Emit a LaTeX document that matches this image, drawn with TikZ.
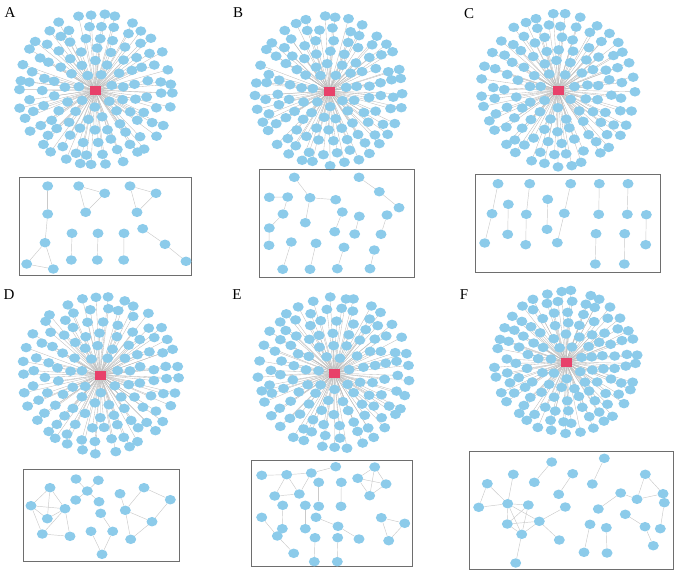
\documentclass[tikz,border=0pt]{standalone}
\usepackage{fontspec}
\setmainfont{Liberation Serif}
\usetikzlibrary{shapes.geometric,backgrounds,calc}
\definecolor{genex}{HTML}{8CCBEA}
\definecolor{hubx}{HTML}{E8416A}
\definecolor{linkx}{HTML}{BDBDBD}
\definecolor{framex}{HTML}{6E6E6E}

% star network: name, x, y, radius scale, seed
\newcommand{\hubnet}[5]{%
  \pgfmathsetseed{#5}%
  \node[hub] (#1h) at (#2,#3) {};
  \foreach \rr/\cnt [count=\k] in {17/7,29/13,41/18,53/23,65/28,76/33}{
    \foreach \i in {1,...,\cnt}{
      \pgfmathsetmacro\ang{360*\i/\cnt+37*\k+3*rand}
      \pgfmathsetmacro\rad{#4*(\rr+1.5*rand)}
      \node[gn] (#1g\k-\i) at ($(#1h)+(\ang:\rad)$) {};
    }
  }
  \begin{scope}[on background layer]
  \foreach \rr/\cnt [count=\k] in {17/7,29/13,41/18,53/23,65/28,76/33}{
    \foreach \i in {1,...,\cnt}
      \draw[lk] (#1h.center) -- (#1g\k-\i.center);
  }
  \end{scope}
}

\begin{document}
\begin{tikzpicture}[x=1pt, y=-1pt,
  gn/.style={ellipse, fill=genex, minimum width=11pt, minimum height=9.5pt, inner sep=0pt},
  hub/.style={rectangle, fill=hubx, minimum width=11pt, minimum height=9pt, inner sep=0pt},
  lk/.style={draw=linkx, line width=0.35pt},
  sub/.style={draw=linkx!80, line width=0.45pt},
  frame/.style={draw=framex, line width=0.9pt},
  lbl/.style={font=\fontsize{15}{15}\selectfont, inner sep=0pt}]
\useasboundingbox (0,0) rectangle (677,574);
% panel letters
\node[lbl] (la) at (10,13) {A};
\node[lbl] (lb) at (238,13) {B};
\node[lbl] (lc) at (469,14) {C};
\node[lbl] (ld) at (9,295) {D};
\node[lbl] (le) at (237,295) {E};
\node[lbl] (lf) at (464,295) {F};
% star networks
\hubnet{A}{95}{90}{1.0}{11}
\hubnet{B}{329}{91}{0.97}{23}
\hubnet{C}{558}{90}{1.0}{37}
\hubnet{D}{100}{375}{1.02}{41}
\hubnet{E}{334}{373}{0.99}{53}
\hubnet{F}{566}{362}{0.93}{67}
% frames
\draw[frame] (19.3,177.3) rectangle (191.7,275);
\draw[frame] (259.3,169.3) rectangle (414,277.7);
\draw[frame] (475.3,174.7) rectangle (660,272.7);
\draw[frame] (23.3,469) rectangle (179,561.7);
\draw[frame] (251.7,460.7) rectangle (412.3,566);
\draw[frame] (469.7,451) rectangle (673,569);
% sub-networks A
\foreach \n/\x/\y in {1/47.7/186,2/47.7/214,3/45/242.7,4/26.7/264,5/53.3/269,
  6/78.7/186,7/104.7/193.3,8/85.7/212.3,9/130/186,10/156/193.3,11/137/212.3,
  12/72/233.3,13/71.3/260,14/98/233.3,15/97.3/260,16/124/233.3,17/123.7/260,
  18/142.7/228.7,19/165/244.3,20/186/261.3}
  \node[gn] (a\n) at (\x,\y) {};
\begin{scope}[on background layer]
\foreach \u/\v in {1/2,2/3,3/4,3/5,4/5,6/7,7/8,6/8,9/10,10/11,9/11,12/13,14/15,16/17,18/19,19/20}
  \draw[sub] (a\u) -- (a\v);
\end{scope}
% sub-networks B
\foreach \n/\x/\y in {1/294.3/177.3,2/310/197.7,3/335.7/199.7,4/305.3/222.7,5/269.3/197.3,
  6/287.7/197,7/283/214,8/269.3/228,9/269/245.3,10/359/177.3,11/379.3/191.7,12/399/207.7,
  13/342.3/212,14/334.7/231.7,15/359.3/216.3,16/354.7/234,17/387/215,18/381/234.3,
  19/291.3/242,20/282.7/269.3,21/316/243.3,22/310/269.3,23/344/247.3,24/337.3/268.7,
  25/374.3/250,26/370/268.7}
  \node[gn] (b\n) at (\x,\y) {};
\begin{scope}[on background layer]
\foreach \u/\v in {1/2,2/3,2/4,5/6,6/7,7/8,8/9,10/11,11/12,13/14,15/16,17/18,19/20,21/22,23/24,25/26}
  \draw[sub] (b\u) -- (b\v);
\end{scope}
% sub-networks C
\foreach \n/\x/\y in {1/498/183.7,2/492/213.7,3/484.7/243,4/508.3/204.3,5/507.7/234.3,
  6/529.7/183.7,7/526.3/214.3,8/525.7/244.7,9/547.7/199.3,10/547/229.3,11/570.7/183.7,
  12/564.3/213.3,13/557.3/242.7,14/599.3/183.7,15/598.7/214.3,16/596/233.7,17/595.3/264,
  18/628/183.7,19/627.3/214.3,20/624.7/233.7,21/624.3/264,22/646.3/214.7,23/645.7/244.7}
  \node[gn] (c\n) at (\x,\y) {};
\begin{scope}[on background layer]
\foreach \u/\v in {1/2,2/3,4/5,6/7,7/8,9/10,11/12,12/13,14/15,16/17,18/19,20/21,22/23}
  \draw[sub] (c\u) -- (c\v);
\end{scope}
% sub-networks D
\foreach \n/\x/\y in {1/50/487.7,2/31/505.7,3/65/508.7,4/47.3/518.7,5/42.3/534,6/70/536.3,
  7/76/479,8/98.3/480.3,9/87.3/491,10/75.7/500,11/99/501.7,
  12/100.7/513.3,13/112.7/531.3,14/91/531.3,15/102/554.3,
  16/120/493.7,17/144/487.7,18/170.3/499.7,19/125.3/510.3,20/152/521.7,21/130.7/539.3}
  \node[gn] (d\n) at (\x,\y) {};
\begin{scope}[on background layer]
\foreach \u/\v in {1/2,1/3,1/4,2/3,2/4,2/5,3/4,3/5,3/6,5/6,7/9,8/9,9/10,9/11,
  12/13,13/15,14/15,16/19,17/19,17/18,18/20,19/20,19/21,20/21}
  \draw[sub] (d\u) -- (d\v);
\end{scope}
% sub-networks E
\foreach \n/\x/\y in {1/261.7/475.3,2/286.7/474.7,3/311.3/473,4/335.7/466.7,5/274.7/496,6/299.3/494,
  7/318.7/482.3,8/318.7/506.3,9/341.3/482.3,10/341/506.3,
  11/357.7/478.3,12/374.7/467,13/386/484,14/369.7/495.7,
  15/282.7/505.3,16/282.3/528.7,17/261.7/517.3,18/277.3/536,19/293.7/553.3,
  20/305.3/505.3,21/305.3/528.7,22/316/517.3,23/338/526.3,24/359/539,
  25/315/537.7,26/314.3/561.7,27/337.7/537.7,28/337.3/561.7,
  29/381.3/517.7,30/404.7/523.3,31/388.7/540.7}
  \node[gn] (e\n) at (\x,\y) {};
\begin{scope}[on background layer]
\foreach \u/\v in {1/2,2/5,2/6,5/6,2/3,3/6,3/4,7/8,9/10,11/12,11/13,11/14,12/13,12/14,13/14,
  15/16,17/18,16/18,18/19,20/21,22/23,23/24,25/26,27/28,29/30,29/31,30/31}
  \draw[sub] (e\u) -- (e\v);
\end{scope}
% sub-networks F
\foreach \n/\x/\y in {1/487.3/483.7,2/478.7/507.3,3/507.7/503.7,4/513.3/474.3,5/528.3/505,
  6/507.3/524,7/521.7/534.3,8/539.3/521.3,9/565.3/507,10/559.3/540,11/515.7/563,
  12/551.7/462,13/534.3/482.3,14/572.7/473.7,15/558.7/494.3,16/604.3/458.3,17/592.3/484,
  18/620.7/493,19/598.3/509,20/590/524.3,21/584/552.3,22/606.3/527.7,23/607/553,
  24/637/499.3,25/645.3/474.3,26/663/493.7,27/664.3/502.7,28/660.3/528.7,
  29/625.3/514.3,30/645/526.7,31/653.3/545.7}
  \node[gn] (f\n) at (\x,\y) {};
\begin{scope}[on background layer]
\foreach \u/\v in {1/2,1/3,2/3,3/4,3/5,3/6,3/7,3/8,5/6,5/7,6/7,6/8,7/8,8/9,8/10,7/11,
  12/13,14/15,16/17,18/19,20/21,22/23,18/24,24/25,25/26,24/26,27/28,29/30,30/31}
  \draw[sub] (f\u) -- (f\v);
\end{scope}
\end{tikzpicture}
\end{document}
